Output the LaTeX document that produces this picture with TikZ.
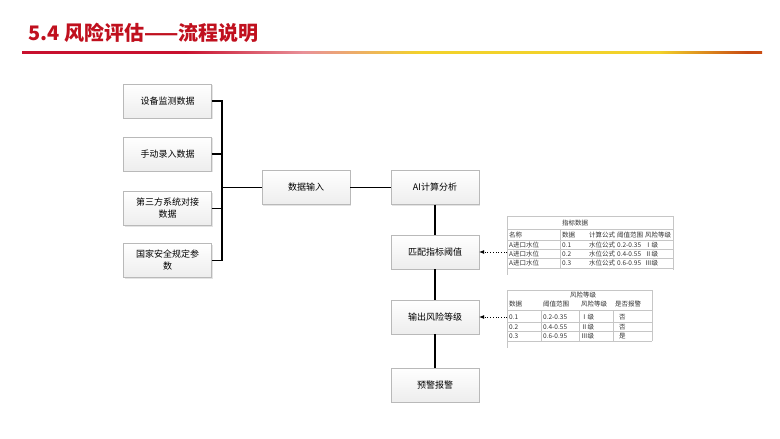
\documentclass[tikz,border=0pt]{standalone}
\usepackage{fontspec}
\setmainfont{Noto Sans CJK SC}
\usetikzlibrary{shadows,arrows.meta}
\definecolor{titlered}{HTML}{C0101E}
\definecolor{c1}{HTML}{E0507A}
\definecolor{c2}{HTML}{C8102E}
\definecolor{c3}{HTML}{E89098}
\definecolor{c4}{HTML}{F2D22A}
\definecolor{c5}{HTML}{E07A20}
\definecolor{c6}{HTML}{C84A12}
\definecolor{c7}{HTML}{F0E6DC}
\pgfdeclarehorizontalshading{barshade}{100bp}{color(0bp)=(c1); color(22bp)=(c2); color(36bp)=(c2); color(44bp)=(c3); color(52bp)=(c4); color(68bp)=(c4); color(74bp)=(c6); color(86bp)=(c5); color(94bp)=(c4); color(100bp)=(c7)}
\tikzset{
  box/.style={draw=gray!55, top color=white, bottom color=gray!14, minimum width=88pt, minimum height=34pt, align=center, font=\fontsize{9}{12}\selectfont, inner sep=2pt, drop shadow={shadow xshift=1.2pt, shadow yshift=-1.2pt, fill=gray!35, opacity=0.6}},
  conn/.style={line width=1.4pt, black},
  dotarrow/.style={dotted, line width=0.7pt, -{Latex[length=5pt,width=4pt]}},
  tline/.style={gray!45, line width=0.4pt},
  tt/.style={font=\fontsize{6.5}{7}\selectfont, text=black!80, inner sep=0pt, anchor=west},
  ttc/.style={font=\fontsize{6.5}{7}\selectfont, text=black!80, inner sep=0pt}
}
\begin{document}
\begin{tikzpicture}[x=1pt,y=-1pt]
\useasboundingbox (0,0) rectangle (780,439);
\fill[white] (0,0) rectangle (780,439);
% title
\node[anchor=west, inner sep=0pt, text=titlered, font=\fontsize{20}{22}\bfseries] (title) at (28,33) {5.4 风险评估——流程说明};
\shade[shading=barshade] (22,51) rectangle (762,53.5);
% left boxes
\node[box] (b1) at (167.5,101) {设备监测数据};
\node[box] (b2) at (167.5,154) {手动录入数据};
\node[box] (b3) at (167.5,208.5) {第三方系统对接\\数据};
\node[box] (b4) at (167.5,260.5) {国家安全规定参\\数};
\node[box] (inp) at (306,187.5) {数据输入};
\node[box] (ai) at (435,187.5) {AI计算分析};
\node[box] (match) at (435,252) {匹配指标阈值};
\node[box] (out) at (435,317) {输出风险等级};
\node[box] (warn) at (435,385) {预警报警};
\coordinate (bus) at (222,187.5);
\draw[conn] (b1.east) -| (bus);
\draw[conn] (b2.east) -| (bus);
\draw[conn] (b3.east) -| (bus);
\draw[conn] (b4.east) -| (bus);
\draw[conn] (bus) -- (inp.west);
\draw[conn] (inp.east) -- (ai.west);
\draw[conn] (ai.south) -- (match.north);
\draw[conn] (match.south) -- (out.north);
\draw[conn] (out.south) -- (warn.north);
% table 1
\draw[tline] (507,216) -- (673,216);
\draw[tline] (507,229) -- (673,229);
\draw[tline] (507,240) -- (673,240);
\draw[tline] (507,249.5) -- (673,249.5);
\draw[tline] (507,258.5) -- (673,258.5);
\draw[tline] (507,268) -- (673,268);
\draw[tline] (507,216) -- (507,275);
\draw[tline] (560,229) -- (560,268);
\draw[tline] (673,216) -- (673,270);
\node[ttc] (t1h) at (575,223) {指标数据};
\node[tt] (t1a) at (509,235) {名称};
\node[tt] (t1b) at (562,235) {数据};
\node[tt] (t1c) at (589,235) {计算公式};
\node[tt] (t1d) at (617,235) {阈值范围};
\node[tt] (t1e) at (645,235) {风险等级};
\node[tt] (t1r1a) at (509,245) {A进口水位};
\node[tt] (t1r1b) at (562,245) {0.1};
\node[tt] (t1r1c) at (589,245) {水位公式};
\node[tt] (t1r1d) at (617,245) {0.2-0.35};
\node[tt] (t1r1e) at (645,245) {Ⅰ级};
\node[tt] (t1r2a) at (509,254) {A进口水位};
\node[tt] (t1r2b) at (562,254) {0.2};
\node[tt] (t1r2c) at (589,254) {水位公式};
\node[tt] (t1r2d) at (617,254) {0.4-0.55};
\node[tt] (t1r2e) at (645,254) {Ⅱ级};
\node[tt] (t1r3a) at (509,263) {A进口水位};
\node[tt] (t1r3b) at (562,263) {0.3};
\node[tt] (t1r3c) at (589,263) {水位公式};
\node[tt] (t1r3d) at (617,263) {0.6-0.95};
\node[tt] (t1r3e) at (645,263) {Ⅲ级};
% table 2
\draw[tline] (507,290) -- (652,290);
\draw[tline] (507,310) -- (652,310);
\draw[tline] (507,322) -- (652,322);
\draw[tline] (507,331.5) -- (652,331.5);
\draw[tline] (507,341) -- (652,341);
\draw[tline] (507,290) -- (507,348);
\draw[tline] (541,310) -- (541,341);
\draw[tline] (579,310) -- (579,341);
\draw[tline] (613,310) -- (613,341);
\draw[tline] (652,290) -- (652,341);
\node[ttc] (t2h) at (583,295) {风险等级};
\node[tt] (t2a) at (509,304) {数据};
\node[tt] (t2b) at (543,304) {阈值范围};
\node[tt] (t2c) at (581,304) {风险等级};
\node[tt] (t2d) at (615,304) {是否报警};
\node[tt] (t2r1a) at (509,317) {0.1};
\node[tt] (t2r1b) at (543,317) {0.2-0.35};
\node[tt] (t2r1c) at (581,317) {Ⅰ级};
\node[tt] (t2r1d) at (619,317) {否};
\node[tt] (t2r2a) at (509,327) {0.2};
\node[tt] (t2r2b) at (543,327) {0.4-0.55};
\node[tt] (t2r2c) at (581,327) {Ⅱ级};
\node[tt] (t2r2d) at (619,327) {否};
\node[tt] (t2r3a) at (509,336) {0.3};
\node[tt] (t2r3b) at (543,336) {0.6-0.95};
\node[tt] (t2r3c) at (581,336) {Ⅲ级};
\node[tt] (t2r3d) at (619,336) {是};
% dotted arrows
\coordinate (tab1w) at (507,252);
\coordinate (tab2w) at (507,317);
\draw[dotarrow] (tab1w) -- (match.east);
\draw[dotarrow] (tab2w) -- (out.east);
\end{tikzpicture}
\end{document}
